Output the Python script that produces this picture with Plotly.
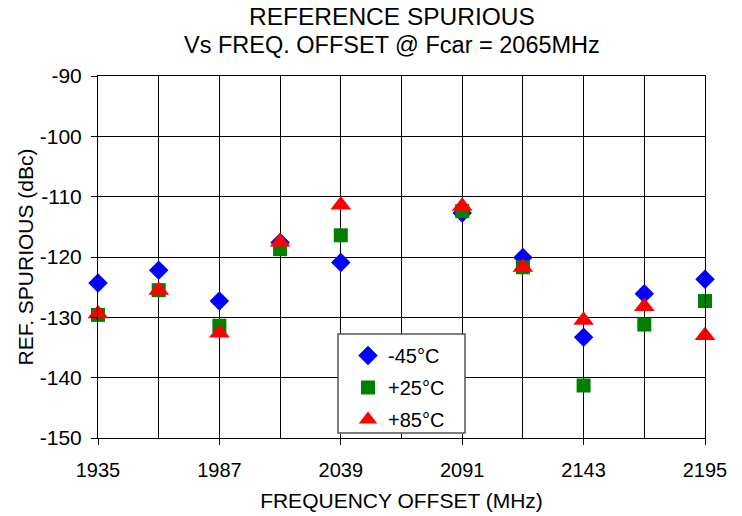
import plotly.graph_objects as go

freq = [1935, 1961, 1987, 2013, 2039, 2091, 2117, 2143, 2169, 2195]
m45 = [-124.3, -122.2, -127.3, -117.6, -120.9, -112.7, -120.1, -133.3, -126.1, -123.7]
p25 = [-129.6, -125.5, -131.4, -118.7, -116.4, -112.4, -121.7, -141.3, -131.2, -127.3]
p85 = [-129.4, -125.5, -132.6, -117.5, -111.4, -111.6, -121.7, -130.5, -128.2, -133.0]
x_ticks = [1935, 1987, 2039, 2091, 2143, 2195]
y_ticks = [-150, -140, -130, -120, -110, -100, -90]
title_lines = ["REFERENCE SPURIOUS", "Vs FREQ. OFFSET @ Fcar = 2065MHz"]

font = "Liberation Sans, Arial, sans-serif"
fig = go.Figure()
fig.add_trace(go.Scatter(x=freq, y=m45, mode="markers", name="-45°C", legendgroup="a",
                         cliponaxis=False,
                         marker=dict(symbol="diamond", color="#0000FF", size=15)))
fig.add_trace(go.Scatter(x=freq, y=p25, mode="markers", name="+25°C", legendgroup="b",
                         cliponaxis=False,
                         marker=dict(symbol="square", color="#008000", size=14)))
fig.add_trace(go.Scatter(x=freq, y=p85, mode="markers", name="+85°C", legendgroup="c",
                         cliponaxis=False,
                         marker=dict(symbol="triangle-up", color="#FF0000", size=18)))

# title lines
fig.add_annotation(text=title_lines[0], xref="paper", yref="paper", x=0.484, y=1.163,
                   xanchor="center", yanchor="middle", showarrow=False,
                   font=dict(size=24.5, family=font, color="black"))
fig.add_annotation(text=title_lines[1], xref="paper", yref="paper", x=0.484, y=1.085,
                   xanchor="center", yanchor="middle", showarrow=False,
                   font=dict(size=23.5, family=font, color="black"))

# legend frame
fig.add_shape(type="rect", xref="paper", yref="paper",
              x0=(338 - 98) / 607, x1=(465 - 98) / 607,
              y0=(438 - 433) / 362, y1=(438 - 334) / 362,
              line=dict(color="#555555", width=1.5), fillcolor="white", layer="above")

fig.update_layout(
    width=742, height=516,
    margin=dict(l=98, r=37, t=76, b=78),
    paper_bgcolor="white", plot_bgcolor="white",
    font=dict(family=font, color="black", size=20),
    showlegend=True,
    legend=dict(x=(348 - 98) / 607, y=(438 - 336) / 362, xanchor="left", yanchor="top",
                bgcolor="rgba(0,0,0,0)", borderwidth=0, tracegroupgap=3,
                font=dict(size=20)),
    xaxis=dict(range=[1935, 2195], tickvals=x_ticks, ticktext=[str(v) for v in x_ticks],
               ticks="outside", ticklen=6, ticklabelstandoff=8, automargin=False,
               tickcolor="black", showline=True, linecolor="black", mirror=True,
               showgrid=True, gridcolor="black", gridwidth=1, zeroline=False,
               minor=dict(dtick=26, tick0=1935, showgrid=True, gridcolor="black", gridwidth=1,
                          ticks=""),
               tickfont=dict(size=20),
               title=dict(text="FREQUENCY OFFSET (MHz)", font=dict(size=21), standoff=13)),
    yaxis=dict(range=[-150, -90], tickvals=y_ticks, ticktext=[str(v) for v in y_ticks],
               ticks="outside", ticklen=6, ticklabelstandoff=5, automargin=False,
               tickcolor="black", showline=True, linecolor="black", mirror=True,
               showgrid=True, gridcolor="black", gridwidth=1, zeroline=False,
               tickfont=dict(size=21),
               title=dict(text="REF. SPURIOUS (dBc)", font=dict(size=21), standoff=0)),
)
fig.write_html("out.html", config={"displayModeBar": False},
               post_script="document.body.style.margin='0';")
